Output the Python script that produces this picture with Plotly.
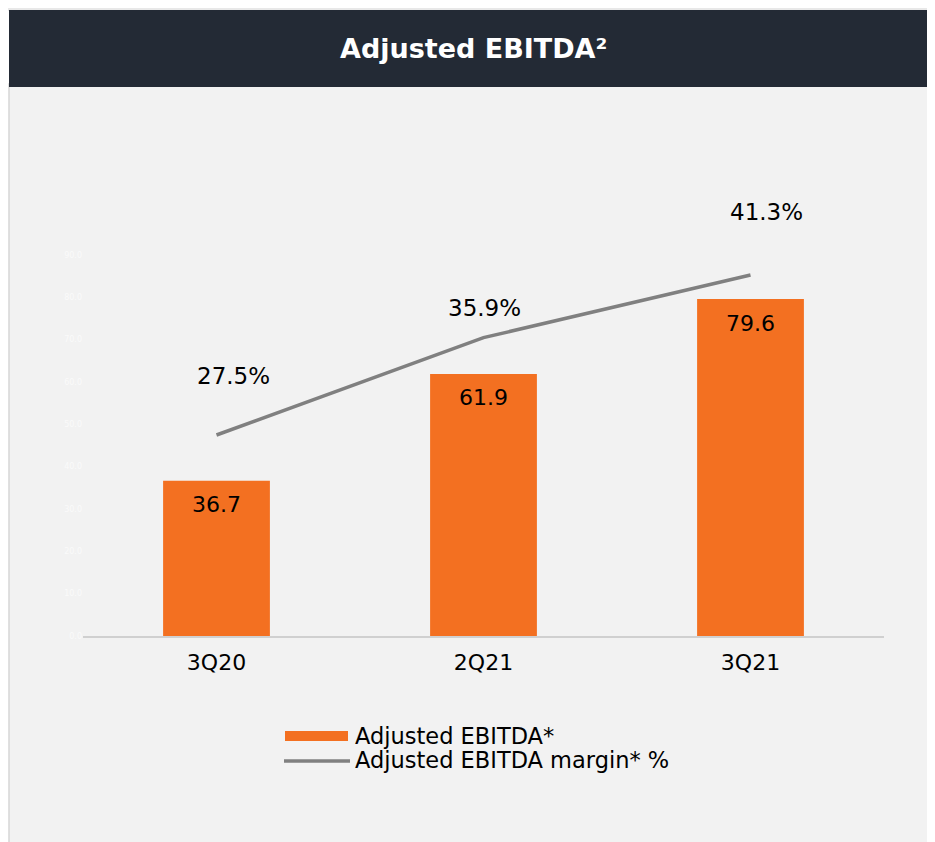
import plotly.graph_objects as go

categories = ["3Q20", "2Q21", "3Q21"]
ebitda = [36.7, 61.9, 79.6]
margin_pct = [27.5, 35.9, 41.3]
ebitda_labels = ["36.7", "61.9", "79.6"]
margin_labels = ["27.5%", "35.9%", "41.3%"]
y_ticks = [0, 10, 20, 30, 40, 50, 60, 70, 80, 90]

# label offsets (pixels) for the margin % labels
pct_xshift = [17, 1, 16]
pct_yshift = [59, 30, 63]

FONT = "DejaVu Sans, Liberation Sans, Arial, sans-serif"
ORANGE = "#f37021"
GREY = "#808080"

W, H = 935, 842
OFF = 8  # page body margin offset
L, R, T, B = 75, 59, 247, 214
pw, ph = W - L - R, H - T - B


def px(xpage):
    return ((xpage - OFF) - L) / pw


def py(ypage):
    return (H - B - (ypage - OFF)) / ph


fig = go.Figure()
fig.add_trace(go.Bar(
    x=categories, y=ebitda, name="Adjusted EBITDA*",
    marker=dict(color=ORANGE, line=dict(width=0)),
    showlegend=False, hoverinfo="skip",
))
fig.add_trace(go.Scatter(
    x=categories, y=margin_pct, name="Adjusted EBITDA margin* %",
    mode="lines", line=dict(color=GREY, width=3.5),
    yaxis="y2", showlegend=False, hoverinfo="skip",
))

annotations = []
for c, v, t in zip(categories, ebitda, ebitda_labels):
    annotations.append(dict(x=c, y=v, xref="x", yref="y", text=t, showarrow=False,
                            yanchor="middle", yshift=-24,
                            font=dict(family=FONT, size=22, color="#000000")))
for c, v, t, xs, ys in zip(categories, margin_pct, margin_labels, pct_xshift, pct_yshift):
    annotations.append(dict(x=c, y=v, xref="x", yref="y2", text=t, showarrow=False,
                            yanchor="middle", xshift=xs, yshift=ys,
                            font=dict(family=FONT, size=23, color="#000000")))

# title
annotations.append(dict(x=px(473), y=py(49), xref="paper", yref="paper",
                        xanchor="center", yanchor="middle",
                        text="<b>Adjusted EBITDA²</b>", showarrow=False,
                        font=dict(family=FONT, size=27, color="#ffffff")))

# custom legend texts
annotations.append(dict(x=px(353), y=py(736), xref="paper", yref="paper", xanchor="left",
                        yanchor="middle", text="Adjusted EBITDA*", showarrow=False,
                        font=dict(family=FONT, size=22.5, color="#000000")))
annotations.append(dict(x=px(353), y=py(760), xref="paper", yref="paper", xanchor="left",
                        yanchor="middle", text="Adjusted EBITDA margin* %", showarrow=False,
                        font=dict(family=FONT, size=22.5, color="#000000")))

shapes = [
    # subtle shadow above header
    dict(type="rect", xref="paper", yref="paper", x0=px(8), x1=px(950), y0=py(11), y1=py(8),
         fillcolor="#e8e8e8", line=dict(width=0), layer="below"),
    # panel background
    dict(type="rect", xref="paper", yref="paper", x0=px(9), x1=px(933), y0=py(900), y1=py(84),
         fillcolor="#f2f2f2", line=dict(color="#d6d6d6", width=1.5), layer="below"),
    # header bar
    dict(type="rect", xref="paper", yref="paper", x0=px(9), x1=px(950), y0=py(87), y1=py(10),
         fillcolor="#232a35", line=dict(width=0), layer="below"),
    # legend swatches
    dict(type="rect", xref="paper", yref="paper", x0=px(285), x1=px(348), y0=py(741), y1=py(731),
         fillcolor=ORANGE, line=dict(width=0)),
    dict(type="line", xref="paper", yref="paper", x0=px(284), x1=px(350), y0=py(761), y1=py(761),
         line=dict(color=GREY, width=3.5)),
]

fig.update_layout(
    width=W, height=H,
    margin=dict(l=L, r=R, t=T, b=B, pad=0),
    paper_bgcolor="#ffffff",
    plot_bgcolor="rgba(0,0,0,0)",
    bargap=0.6,
    showlegend=False,
    font=dict(family=FONT, color="#000000"),
    xaxis=dict(showgrid=False, zeroline=False, showline=True, linecolor="#d0d0d0", linewidth=2,
               ticks="", tickfont=dict(family=FONT, size=22, color="#000000"), ticklabelstandoff=6),
    yaxis=dict(range=[0, 90], tickvals=y_ticks, tickformat=".1f", showgrid=False, zeroline=False,
               showline=False, ticks="", tickfont=dict(family=FONT, size=8, color="#fafafa")),
    yaxis2=dict(range=[10.16, 43.03], overlaying="y", side="right", visible=False),
    annotations=annotations,
    shapes=shapes,
)

fig.write_html("out.html")
